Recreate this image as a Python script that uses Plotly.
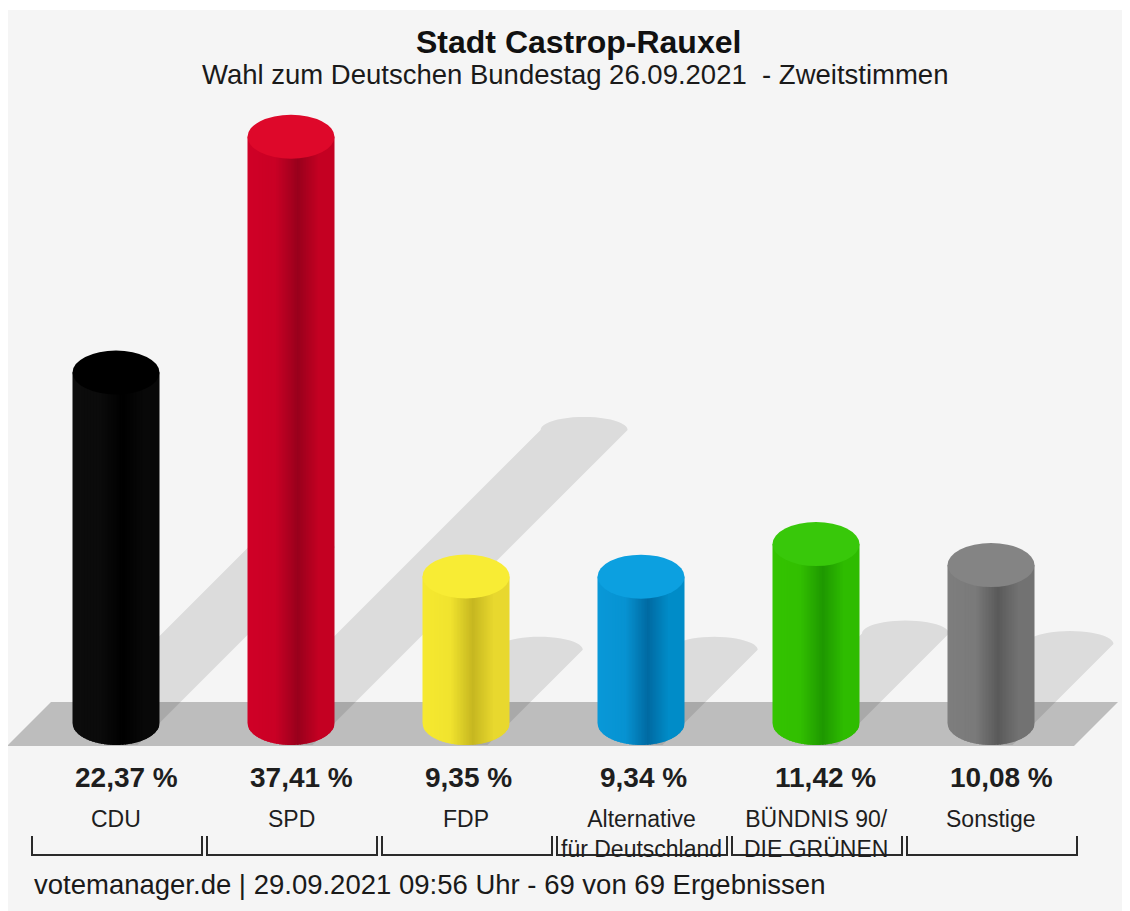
import math
import plotly.graph_objects as go

# ---------------- data ----------------
parties = ["CDU", "SPD", "FDP", "Alternative<br>für Deutschland",
           "BÜNDNIS 90/<br>DIE GRÜNEN", "Sonstige"]
values = [22.37, 37.41, 9.35, 9.34, 11.42, 10.08]

left_colors = [(12, 12, 12), (208, 0, 38), (246, 233, 48), (8, 152, 216), (52, 196, 0), (126, 126, 126)]
dark_colors = [(0, 0, 0), (152, 0, 28), (198, 183, 32), (0, 106, 162), (30, 152, 0), (90, 90, 90)]
right_colors = [(8, 8, 8), (196, 0, 34), (232, 216, 46), (0, 140, 200), (46, 188, 0), (114, 114, 114)]
top_colors = [(0, 0, 0), (222, 8, 42), (248, 236, 52), (12, 160, 224), (56, 200, 10), (132, 132, 132)]

title = "Stadt Castrop-Rauxel"
subtitle = "Wahl zum Deutschen Bundestag 26.09.2021\u00a0 - Zweitstimmen"
footer = "votemanager.de | 29.09.2021 09:56 Uhr - 69 von 69 Ergebnissen"

# ---------------- geometry / style (screen pixels) ----------------
W, H = 1130, 911
OFF = 8              # page body margin
X0_PX = 116          # screen pixel centre of first category
STEP_PX = 175        # pixels per category
BASE_PX = 723        # screen pixel of 0 %
PX_PER_PCT = 15.67   # pixels per percent
RX_PX = 43.5
RY_PX = 22
FONT = "Liberation Sans, Arial, Helvetica, sans-serif"


def xu(px):
    return (px - X0_PX) / STEP_PX


def yu(py):
    return (BASE_PX - py) / PX_PER_PCT


def xp(px):
    return (px - OFF) / W


def yp(py):
    return 1 - (py - OFF) / H


def col(c):
    return "rgb(%d,%d,%d)" % tuple(int(round(v)) for v in c)


def mix(a, b, t):
    return tuple(a[k] + (b[k] - a[k]) * t for k in range(3))


def shade(i, t):
    L, D, R = left_colors[i], dark_colors[i], right_colors[i]
    L2 = mix(L, D, 0.12)
    if t < 0.32:
        return mix(L, L2, t / 0.32)
    if t < 0.58:
        return mix(L2, D, (t - 0.32) / 0.26)
    if t < 0.82:
        return mix(D, R, (t - 0.58) / 0.24)
    return R


def path(points, close=True):
    s = "M " + " L ".join("%.5f,%.5f" % (xu(x), yu(y)) for x, y in points)
    return s + (" Z" if close else "")


shapes = []
# background panel
shapes.append(dict(type="rect", xref="paper", yref="paper", x0=0, x1=1, y0=0, y1=yp(10),
                   fillcolor="#f5f5f5", line=dict(width=0), layer="below"))
# floor band
shapes.append(dict(type="path", xref="x", yref="y",
                   path=path([(7, 746), (51, 702), (1118, 702), (1074, 746)]),
                   fillcolor="#bdbdbd", line=dict(width=0), layer="below"))

# shadows
for i, v in enumerate(values):
    cx = X0_PX + STEP_PX * i
    h = v * PX_PER_PCT
    d = 0.5 * h
    top = BASE_PX - d
    scx = cx + d
    pts = [(cx, 745), (cx - RX_PX, BASE_PX), (cx - RX_PX + d, top)]
    for k in range(1, 24):
        th = math.pi - math.pi * k / 24
        pts.append((scx + RX_PX * math.cos(th), top - 13 * math.sin(th)))
    pts.append((cx + RX_PX + d, top))
    pts.append((cx + RX_PX - 22, 745))
    shapes.append(dict(type="path", xref="x", yref="y", path=path(pts),
                       fillcolor="rgba(0,0,0,0.10)", line=dict(width=0), layer="below"))

# cylinders
N = 58
for i, v in enumerate(values):
    cx = X0_PX + STEP_PX * i
    top_py = BASE_PX - v * PX_PER_PCT

    def yb(x, cx=cx):
        r = max(0.0, 1 - ((x - cx) / RX_PX) ** 2)
        return BASE_PX + RY_PX * math.sqrt(r)

    for j in range(N):
        xa = cx - RX_PX + 2 * RX_PX * j / N
        xb = cx - RX_PX + 2 * RX_PX * (j + 1) / N
        xb_o = min(xb + 1.0, cx + RX_PX)
        t = (j + 0.5) / N
        pts = [(xa, top_py), (xb_o, top_py)]
        for k in range(4, -1, -1):
            xx = xa + (xb_o - xa) * k / 4
            pts.append((xx, yb(xx)))
        shapes.append(dict(type="path", xref="x", yref="y", path=path(pts),
                           fillcolor=col(shade(i, t)), line=dict(width=0), layer="above"))
    # top face
    shapes.append(dict(type="circle", xref="x", yref="y",
                       x0=xu(cx - RX_PX), x1=xu(cx + RX_PX),
                       y0=yu(top_py + RY_PX), y1=yu(top_py - RY_PX),
                       fillcolor=col(top_colors[i]), line=dict(width=0), layer="above"))

# brackets
for i in range(len(values)):
    cx = X0_PX + STEP_PX * i
    l, r = cx - 84, cx + 86
    shapes.append(dict(type="path", xref="x", yref="y",
                       path=path([(l, 836), (l, 855), (r, 855), (r, 836)], close=False),
                       line=dict(color="#2a2a2a", width=2), layer="above"))

annotations = []
for i, (p, v) in enumerate(zip(parties, values)):
    annotations.append(dict(x=i - RX_PX / STEP_PX, y=yu(777), xref="x", yref="y", showarrow=False,
                            text=("%.2f" % v).replace(".", ",") + " %",
                            font=dict(family=FONT, size=28, color="#1e1e1e", weight="bold"),
                            xanchor="left", yanchor="middle"))
    annotations.append(dict(x=i, y=yu(804), xref="x", yref="y", showarrow=False,
                            text=p, align="center",
                            font=dict(family=FONT, size=23, color="#1e1e1e"),
                            xanchor="center", yanchor="top"))

annotations.append(dict(x=xp(578), y=yp(42), xref="paper", yref="paper", showarrow=False,
                        text=title, font=dict(family=FONT, size=32, color="#111", weight="bold"),
                        xanchor="center", yanchor="middle"))
annotations.append(dict(x=xp(575), y=yp(75), xref="paper", yref="paper", showarrow=False,
                        text=subtitle, font=dict(family=FONT, size=27.5, color="#1a1a1a"),
                        xanchor="center", yanchor="middle"))
annotations.append(dict(x=xp(32), y=yp(884), xref="paper", yref="paper", showarrow=False,
                        text=footer, font=dict(family=FONT, size=27.5, color="#1a1a1a"),
                        xanchor="left", yanchor="middle"))

fig = go.Figure()
fig.add_trace(go.Scatter(x=list(range(len(values))), y=values, mode="markers",
                         marker=dict(opacity=0, size=1),
                         text=[p.replace("<br>", " ") for p in parties],
                         hovertemplate="%{text}: %{y:.2f} %<extra></extra>", showlegend=False))

fig.update_layout(
    width=W, height=H, autosize=False,
    margin=dict(l=0, r=0, t=0, b=0, pad=0),
    paper_bgcolor="white", plot_bgcolor="rgba(0,0,0,0)",
    xaxis=dict(range=[xu(OFF), xu(W + OFF)], visible=False, fixedrange=True),
    yaxis=dict(range=[yu(H + OFF), yu(OFF)], visible=False, fixedrange=True),
    shapes=shapes, annotations=annotations, showlegend=False,
)

fig.write_html("out.html")
